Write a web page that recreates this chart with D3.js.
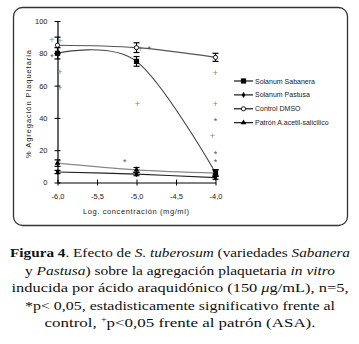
<!DOCTYPE html>
<html>
<head>
<meta charset="utf-8">
<script src="https://cdn.jsdelivr.net/npm/d3@7"></script>
<style>
  body { margin: 0; background: #fff; }
  svg { display: block; }
</style>
</head>
<body>
<div id="chart"></div>
<script>
// Data
const logConc = [-6.0, -5.0, -4.0];
const sabanera = [80, 75, 6];
const sabaneraErr = [3.5, 3, 2];
const pastusa = [6.5, 5.2, 3];
const pastusaErr = [1, 1, 1];
const control = [85, 83.5, 77.5];
const controlErr = [5, 3, 2.5];
const patron = [12, 7.8, 5.8];
const patronErr = [2, 1.5, 2];

const seriesNames = ["Solanum Sabanera", "Solanum Pastusa", "Control DMSO", "Patrón A.acetil-salicilico"];

// significance markers (+ vs patrón, * vs control)
const plusX = [-6.07, -5.97, -5.97, -5.97, -4.99, -4.95, -4.0, -4.0, -4.04];
const plusY = [88, 87.5, 68.5, 58.3, 48.4, 82.5, 68, 48.4, 28.8];
const starX = [-6.07, -4.84, -5.15, -5.98, -4.0, -4.0, -4.0];
const starY = [78.5, 83.5, 13.7, 13.7, 39, 18.5, 13.5];

const xTicks = [-6.0, -5.5, -5.0, -4.5, -4.0];
const yTicks = [0, 20, 40, 60, 80, 100];

const caption = [
  [["Figura 4", "b"], [". Efecto de ", ""], ["S. tuberosum", "i"], [" (variedades ", ""], ["Sabanera", "i"]],
  [["y ", ""], ["Pastusa", "i"], [") sobre la agregación plaquetaria ", ""], ["in vitro", "i"]],
  [["inducida por ácido araquidónico (150 ", ""], ["μ", "i"], ["g/mL), n=5,", ""]],
  [["*p< 0,05, estadisticamente significativo frente al", ""]],
  [["control, ", ""], ["+", "sup"], ["p<0,05 frente al patrón (ASA).", ""]]
];
const captionWidths = [340, 310, 337, 310, 271];

const width = 359, height = 344;
const svg = d3.select("#chart").append("svg")
  .attr("width", width).attr("height", height);

// frame
svg.append("rect")
  .attr("x", 13.5).attr("y", 7.5)
  .attr("width", 334).attr("height", 218)
  .attr("rx", 9).attr("ry", 9)
  .attr("fill", "none").attr("stroke", "#333").attr("stroke-width", 1.3);

const x = d3.scaleLinear().domain([-6, -4]).range([57.5, 215.5]);
const y = d3.scaleLinear().domain([0, 100]).range([182.5, 21]);

const font = "'Liberation Sans', Arial, sans-serif";

// y axis
const yAxis = svg.append("g")
  .attr("transform", `translate(${x(-6)},0)`)
  .call(d3.axisLeft(y).tickValues(yTicks).tickSizeInner(3).tickSizeOuter(0).tickPadding(7));
yAxis.selectAll(".tick line").attr("x2", 3).attr("x1", -3);
// x axis
const xAxis = svg.append("g")
  .attr("transform", `translate(0,${y(0)})`)
  .call(d3.axisBottom(x).tickValues(xTicks).tickSizeInner(3).tickSizeOuter(0).tickPadding(8)
    .tickFormat(d => d3.format(".1f")(d).replace(".", ",").replace("−", "-")));
xAxis.selectAll(".tick line").attr("y1", -3).attr("y2", 3);

[yAxis, xAxis].forEach(g => {
  g.select(".domain").attr("stroke", "#000").attr("stroke-width", 1.2);
  g.selectAll(".tick line").attr("stroke", "#000").attr("stroke-width", 1);
  g.selectAll("text").attr("font-family", font).attr("font-size", 7.5).attr("fill", "#222");
});

svg.append("text")
  .attr("x", 136).attr("y", 214)
  .attr("text-anchor", "middle")
  .attr("font-family", font).attr("font-size", 7.5).attr("fill", "#222")
  .attr("textLength", 106).attr("lengthAdjust", "spacing")
  .text("Log. concentración (mg/ml)");

svg.append("text")
  .attr("transform", `translate(31,104) rotate(-90)`)
  .attr("text-anchor", "middle")
  .attr("font-family", font).attr("font-size", 7.5).attr("fill", "#222")
  .attr("textLength", 108).attr("lengthAdjust", "spacing")
  .text("% Agregación Plaquetaria");

// significance markers
const marks = svg.append("g").attr("font-family", font).attr("text-anchor", "middle");
plusX.forEach((px, i) => {
  marks.append("text").attr("x", x(px)).attr("y", y(plusY[i]) + 3)
    .attr("font-size", 9).attr("fill", "#888").text("+");
});
starX.forEach((sx, i) => {
  marks.append("text").attr("x", x(sx)).attr("y", y(starY[i]) + 4.5)
    .attr("font-size", 9).attr("fill", "#555").text("*");
});

const series = [
  { name: seriesNames[0], vals: sabanera, err: sabaneraErr, color: "#444", marker: "square" },
  { name: seriesNames[1], vals: pastusa, err: pastusaErr, color: "#222", marker: "diamond" },
  { name: seriesNames[2], vals: control, err: controlErr, color: "#555", marker: "circle" },
  { name: seriesNames[3], vals: patron, err: patronErr, color: "#888", marker: "triangle" }
];

const line = d3.line()
  .x(d => x(d[0])).y(d => y(d[1]))
  .curve(d3.curveCardinal.tension(0));

function drawMarker(g, type, cx, cy) {
  if (type === "square") {
    g.append("rect").attr("x", cx - 2.6).attr("y", cy - 2.6).attr("width", 5.2).attr("height", 5.2).attr("fill", "#000");
  } else if (type === "diamond") {
    g.append("path").attr("d", d3.symbol(d3.symbolDiamond, 11)()).attr("transform", `translate(${cx},${cy})`).attr("fill", "#000");
  } else if (type === "circle") {
    g.append("circle").attr("cx", cx).attr("cy", cy).attr("r", 2.1).attr("fill", "#fff").attr("stroke", "#000").attr("stroke-width", 0.9);
  } else {
    g.append("path").attr("d", d3.symbol(d3.symbolTriangle, 14)()).attr("transform", `translate(${cx},${cy})`).attr("fill", "#000");
  }
}

series.forEach(s => {
  const pts = logConc.map((c, i) => [c, s.vals[i]]);
  svg.append("path").datum(pts)
    .attr("d", line)
    .attr("fill", "none").attr("stroke", s.color).attr("stroke-width", 1.1);
  const g = svg.append("g");
  pts.forEach((p, i) => {
    const cx = x(p[0]);
    const top = y(p[1] + s.err[i]), bot = y(p[1] - s.err[i]);
    g.append("line").attr("x1", cx).attr("x2", cx).attr("y1", top).attr("y2", bot).attr("stroke", "#000").attr("stroke-width", 1.1);
    [top, bot].forEach(v => g.append("line").attr("x1", cx - 3).attr("x2", cx + 3).attr("y1", v).attr("y2", v).attr("stroke", "#000").attr("stroke-width", 1.2));
    drawMarker(g, s.marker, cx, y(p[1]));
  });
});

// legend
const legend = svg.append("g");
series.forEach((s, i) => {
  const ly = 81 + i * 13.9;
  legend.append("line").attr("x1", 234).attr("x2", 253).attr("y1", ly).attr("y2", ly).attr("stroke", "#000").attr("stroke-width", 1.1);
  drawMarker(legend, s.marker, 243.5, ly);
  legend.append("text").attr("x", 255).attr("y", ly + 2.5)
    .attr("font-family", font).attr("font-size", 7).attr("fill", "#222")
    .text(s.name);
});

// caption
const capFont = "'Liberation Serif', 'DejaVu Serif', serif";
caption.forEach((parts, i) => {
  const t = svg.append("text")
    .attr("x", 180).attr("y", 257 + i * 17.5)
    .attr("text-anchor", "middle")
    .attr("font-family", capFont).attr("font-size", 13.5).attr("fill", "#111")
    .attr("textLength", captionWidths[i]).attr("lengthAdjust", "spacingAndGlyphs");
  parts.forEach(([txt, st]) => {
    const sp = t.append("tspan").text(txt);
    if (st === "b") sp.attr("font-weight", "bold");
    if (st === "i") sp.attr("font-style", "italic");
    if (st === "sup") sp.attr("font-size", 8).attr("dy", -5);
    if (i === 4 && txt.startsWith("p<")) sp.attr("dy", 5);
  });
});
</script>
</body>
</html>
